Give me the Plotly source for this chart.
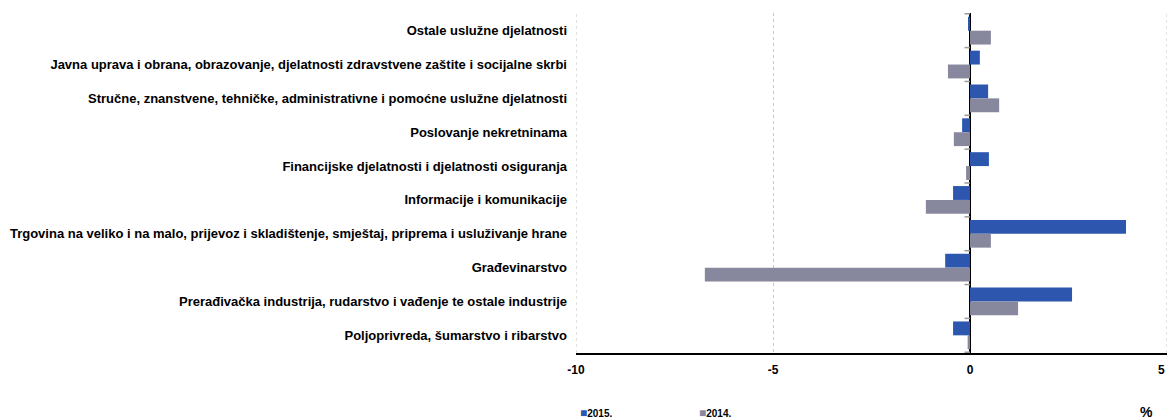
import plotly.graph_objects as go

categories = [
    "Ostale uslužne djelatnosti",
    "Javna uprava i obrana, obrazovanje, djelatnosti zdravstvene zaštite i socijalne skrbi",
    "Stručne, znanstvene, tehničke, administrativne i pomoćne uslužne djelatnosti",
    "Poslovanje nekretninama",
    "Financijske djelatnosti i djelatnosti osiguranja",
    "Informacije i komunikacije",
    "Trgovina na veliko i na malo, prijevoz i skladištenje, smještaj, priprema i usluživanje hrane",
    "Građevinarstvo",
    "Prerađivačka industrija, rudarstvo i vađenje te ostale industrije",
    "Poljoprivreda, šumarstvo i ribarstvo",
]
values_2015 = [-0.05, 0.25, 0.46, -0.20, 0.48, -0.43, 3.96, -0.63, 2.59, -0.43]
values_2014 = [0.53, -0.56, 0.74, -0.41, -0.10, -1.12, 0.53, -6.73, 1.22, -0.06]
x_ticks = [-10, -5, 0, 5]
series_names = ["2015.", "2014."]
series_colors = ["#2d56ae", "#87879e"]

fig = go.Figure()
for name, vals, col in zip(series_names, [values_2015, values_2014], series_colors):
    fig.add_trace(go.Bar(
        y=categories, x=vals, orientation="h", name=name,
        marker=dict(color=col, line=dict(width=0)),
        showlegend=False,
    ))

# dotted gridlines at the range ends (plotly skips them at the plot edges)
for xv in (x_ticks[0], x_ticks[-1]):
    fig.add_shape(type="line", xref="x", yref="paper", x0=xv, x1=xv, y0=0, y1=1,
                  line=dict(color="#c8c8c8", width=1, dash="dot"), layer="below")

# small tick marks on the zero axis at category boundaries
for i in range(len(categories) + 1):
    fig.add_shape(type="line", xref="x", yref="y",
                  x0=-0.14, x1=0, y0=i - 0.5, y1=i - 0.5,
                  line=dict(color="#9a9a9a", width=1.5))

# manual legend
annotations = []
for k, (name, col) in enumerate(zip(series_names, series_colors)):
    annotations.append(dict(
        text=f"<span style='color:{col};font-size:12px'>■</span><b>{name}</b>",
        xref="paper", yref="paper", x=0.004 + k * 0.2, y=-0.15,
        xanchor="left", yanchor="top", showarrow=False,
        font=dict(size=10, color="black")))
annotations.append(dict(text="<b>%</b>", xref="paper", yref="paper", x=0.965, y=-0.145,
                        xanchor="center", yanchor="top", showarrow=False,
                        font=dict(size=14, color="black")))
# last tick label sits at the right edge: anchor it to the right so it stays visible
annotations.append(dict(text=f"<b>{x_ticks[-1]}</b>", xref="x", yref="paper",
                        x=x_ticks[-1], y=0, xanchor="right", yanchor="top", yshift=-8,
                        showarrow=False, font=dict(size=12, color="black")))

fig.update_layout(
    width=1168, height=419,
    margin=dict(l=576, r=1, t=13, b=66, autoexpand=False),
    paper_bgcolor="white", plot_bgcolor="white",
    barmode="group", bargap=0.18, bargroupgap=0,
    font=dict(family="Liberation Sans, Arial", color="black"),
    showlegend=False,
    xaxis=dict(range=[-10, 5], tickvals=x_ticks[:-1], ticktext=[str(v) for v in x_ticks[:-1]],
               showgrid=True, gridcolor="#c8c8c8", griddash="dot", gridwidth=1,
               zeroline=True, zerolinecolor="black", zerolinewidth=2,
               showline=True, linecolor="black", linewidth=2,
               ticks="", tickfont=dict(size=12, weight="bold"), ticklabelstandoff=5,
               automargin=False, fixedrange=True),
    yaxis=dict(autorange="reversed", showgrid=False, zeroline=False, showline=False,
               ticks="", tickfont=dict(size=13, weight="bold"), ticklabelstandoff=8,
               automargin=False, fixedrange=True),
    annotations=annotations,
)

fig.write_html("out.html",
               config={"displayModeBar": False},
               post_script="document.body.style.margin='0';document.body.style.overflow='hidden';")
